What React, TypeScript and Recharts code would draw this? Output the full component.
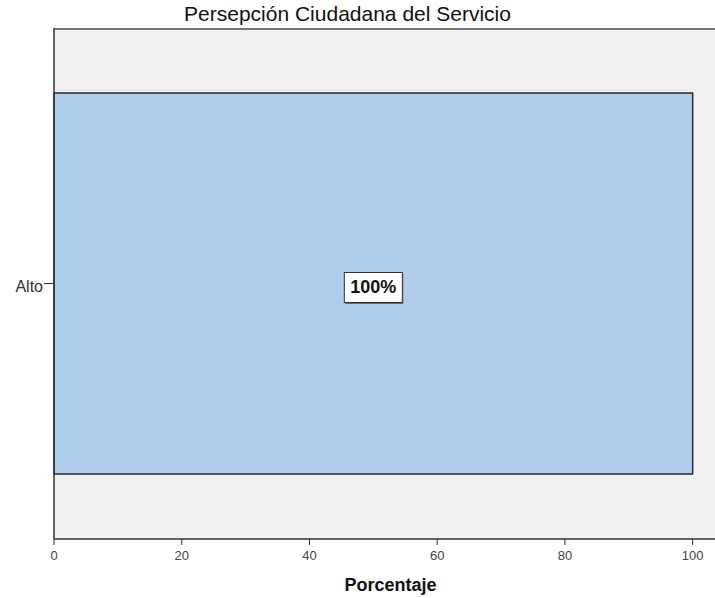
import { Bar, BarChart, CartesianGrid, LabelList, XAxis, YAxis } from "recharts";

const categories = ["Alto"];
const percentages = [100];
const xTicks = [0, 20, 40, 60, 80, 100];

const data = categories.map((name, i) => ({ name, value: percentages[i] }));

const BoxLabel = (props: any) => {
  const { x, y, width, height, value } = props;
  const cx = x + width / 2;
  const cy = y + height / 2 + 4;
  const w = 58;
  const h = 30;
  return (
    <g>
      <rect x={cx - w / 2 + 1} y={cy - h / 2 + 1.5} width={w} height={h} fill="#666" />
      <rect x={cx - w / 2} y={cy - h / 2} width={w} height={h} fill="#fff" stroke="#333" strokeWidth={1} />
      <text
        x={cx}
        y={cy + 1}
        textAnchor="middle"
        dominantBaseline="middle"
        fontFamily="Liberation Sans, Arial, sans-serif"
        fontWeight="bold"
        fontSize={18}
        fill="#111"
      >
        {value}%
      </text>
    </g>
  );
};

const App = () => {
  return (
    <div style={{ position: "absolute", left: 0, top: 0, width: 715, height: 598, background: "#fff" }}>
      <div
        style={{
          position: "absolute",
          top: 2,
          left: 0,
          width: 715,
          textAlign: "center",
          fontFamily: "Liberation Sans, Arial, sans-serif",
          fontSize: 21,
          lineHeight: "24px",
          color: "#111",
        }}
      >
        <span style={{ position: "relative", left: -10 }}>Persepción Ciudadana del Servicio</span>
      </div>
      <BarChart
        width={715}
        height={598}
        data={data}
        layout="vertical"
        margin={{ top: 28, right: 0, bottom: 0, left: 0 }}
        barSize={381}
      >
        <CartesianGrid
          fill="#F0F0F0"
          vertical={false}
          horizontal={true}
          stroke="#777"
          strokeWidth={2}
          horizontalCoordinatesGenerator={({ offset }: any) => [offset.top + 1]}
        />
        <XAxis
          type="number"
          domain={[0, 103.5]}
          ticks={xTicks}
          height={59}
          axisLine={{ stroke: "#333", strokeWidth: 1.5 }}
          tickLine={{ stroke: "#333" }}
          tickSize={6}
          tickMargin={6}
          tick={{ fill: "#444", fontSize: 13, fontFamily: "Liberation Sans, Arial, sans-serif" }}
          label={{
            value: "Porcentaje",
            position: "insideBottom",
            offset: 7,
            dx: 6,
            fill: "#111",
            fontSize: 18,
            fontWeight: "bold",
            fontFamily: "Liberation Sans, Arial, sans-serif",
          }}
        />
        <YAxis
          type="category"
          dataKey="name"
          width={54}
          axisLine={{ stroke: "#333", strokeWidth: 1.5 }}
          tickLine={{ stroke: "#333" }}
          tickSize={10}
          tickMargin={1}
          tick={{ fill: "#333", fontSize: 16, dy: 3, fontFamily: "Liberation Sans, Arial, sans-serif" }}
        />
        <Bar
          dataKey="value"
          fill="#AECFEC"
          stroke="#2a2a2a"
          strokeWidth={1.5}
          isAnimationActive={false}
        >
          <LabelList dataKey="value" content={<BoxLabel />} />
        </Bar>
      </BarChart>
    </div>
  );
};

export default App;
